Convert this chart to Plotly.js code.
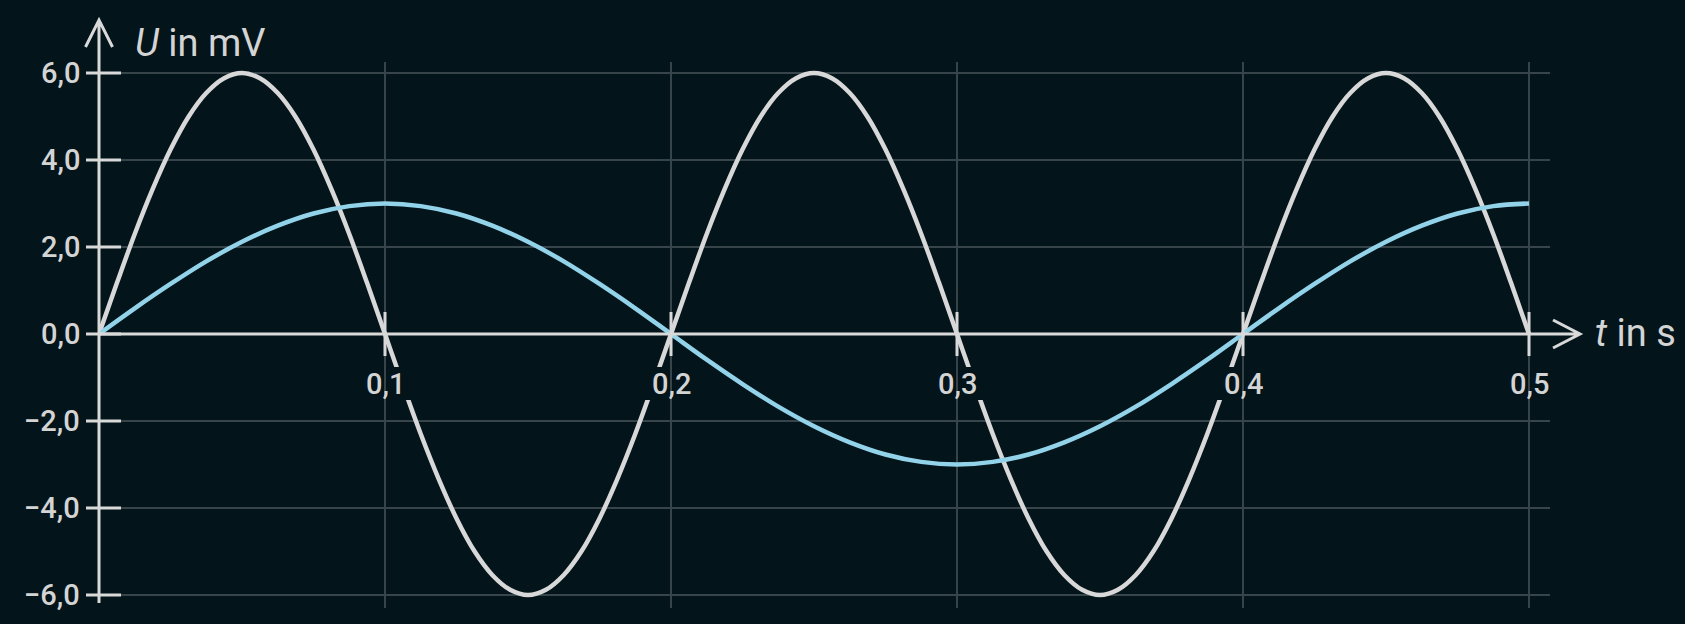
<!DOCTYPE html>
<html>
<head>
<meta charset="utf-8">
<script src="https://cdn.plot.ly/plotly-3.0.1.min.js"></script>
<style>
  html, body { margin: 0; padding: 0; background: #03141b; }
  #chart { width: 1685px; height: 624px; }
</style>
</head>
<body>
<div id="chart"></div>
<script>
// ---- data ----
const tWhite = [0, 0.00625, 0.0125, 0.01875, 0.025, 0.03125, 0.0375, 0.04375,
  0.05, 0.05625, 0.0625, 0.06875, 0.075, 0.08125, 0.0875, 0.09375,
  0.1, 0.10625, 0.1125, 0.11875, 0.125, 0.13125, 0.1375, 0.14375,
  0.15, 0.15625, 0.1625, 0.16875, 0.175, 0.18125, 0.1875, 0.19375,
  0.2, 0.20625, 0.2125, 0.21875, 0.225, 0.23125, 0.2375, 0.24375,
  0.25, 0.25625, 0.2625, 0.26875, 0.275, 0.28125, 0.2875, 0.29375,
  0.3, 0.30625, 0.3125, 0.31875, 0.325, 0.33125, 0.3375, 0.34375,
  0.35, 0.35625, 0.3625, 0.36875, 0.375, 0.38125, 0.3875, 0.39375,
  0.4, 0.40625, 0.4125, 0.41875, 0.425, 0.43125, 0.4375, 0.44375,
  0.45, 0.45625, 0.4625, 0.46875, 0.475, 0.48125, 0.4875, 0.49375,
  0.5];
const uWhite = [0, 1.17, 2.3, 3.33, 4.24, 4.99, 5.54, 5.88,
  6, 5.88, 5.54, 4.99, 4.24, 3.33, 2.3, 1.17,
  0, -1.17, -2.3, -3.33, -4.24, -4.99, -5.54, -5.88,
  -6, -5.88, -5.54, -4.99, -4.24, -3.33, -2.3, -1.17,
  0, 1.17, 2.3, 3.33, 4.24, 4.99, 5.54, 5.88,
  6, 5.88, 5.54, 4.99, 4.24, 3.33, 2.3, 1.17,
  0, -1.17, -2.3, -3.33, -4.24, -4.99, -5.54, -5.88,
  -6, -5.88, -5.54, -4.99, -4.24, -3.33, -2.3, -1.17,
  0, 1.17, 2.3, 3.33, 4.24, 4.99, 5.54, 5.88,
  6, 5.88, 5.54, 4.99, 4.24, 3.33, 2.3, 1.17,
  0];
const tBlue = [0, 0.0125, 0.025, 0.0375, 0.05, 0.0625, 0.075, 0.0875,
  0.1, 0.1125, 0.125, 0.1375, 0.15, 0.1625, 0.175, 0.1875,
  0.2, 0.2125, 0.225, 0.2375, 0.25, 0.2625, 0.275, 0.2875,
  0.3, 0.3125, 0.325, 0.3375, 0.35, 0.3625, 0.375, 0.3875,
  0.4, 0.4125, 0.425, 0.4375, 0.45, 0.4625, 0.475, 0.4875,
  0.5];
const uBlue = [0, 0.59, 1.15, 1.67, 2.12, 2.49, 2.77, 2.94,
  3, 2.94, 2.77, 2.49, 2.12, 1.67, 1.15, 0.59,
  0, -0.59, -1.15, -1.67, -2.12, -2.49, -2.77, -2.94,
  -3, -2.94, -2.77, -2.49, -2.12, -1.67, -1.15, -0.59,
  0, 0.59, 1.15, 1.67, 2.12, 2.49, 2.77, 2.94,
  3];

const xTicks = [0.1, 0.2, 0.3, 0.4, 0.5];
const xTickLabels = ['0,1', '0,2', '0,3', '0,4', '0,5'];
const yTicks = [-6, -4, -2, 0, 2, 4, 6];
const yTickLabels = ['\u22126,0', '\u22124,0', '\u22122,0', '0,0', '2,0', '4,0', '6,0'];

const yAxisTitle = '<i>U</i> in mV';
const xAxisTitle = '<i>t</i> in s';

// ---- styling ----
const BG = '#03141b';
const GRID = '#37444a';
const AXIS = '#d9d9d9';
const TEXT = '#d4d4d4';
const WHITE = '#d8d8d8';
const BLUE = '#93d3ea';
const FONT = 'Roboto, "Noto Sans", sans-serif';

const X_RANGE = [0, 0.50734];
const Y_RANGE = [-6.299, 6.253];
const px = t => (t - X_RANGE[0]) / (X_RANGE[1] - X_RANGE[0]);
const py = u => (u - Y_RANGE[0]) / (Y_RANGE[1] - Y_RANGE[0]);

const traces = [
  { x: tWhite, y: uWhite, type: 'scatter', mode: 'lines',
    line: { color: WHITE, width: 4.5, shape: 'spline', smoothing: 1 }, hoverinfo: 'skip' },
  { x: tBlue, y: uBlue, type: 'scatter', mode: 'lines',
    line: { color: BLUE, width: 4.5, shape: 'spline', smoothing: 1 }, hoverinfo: 'skip' }
];

const shapes = [];
// masks behind x tick labels (leave the grid line visible)
xTicks.forEach(t => {
  [[-27, -1.6], [1.6, 27]].forEach(([a, b]) => {
    shapes.push({ type: 'rect', xref: 'paper', yref: 'paper',
      xsizemode: 'pixel', ysizemode: 'pixel', xanchor: px(t), yanchor: py(0),
      x0: a, x1: b, y0: -33, y1: -66, fillcolor: BG, line: { width: 0 }, layer: 'above' });
  });
});
// x axis line + arrow
shapes.push({ type: 'line', xref: 'paper', yref: 'paper', x0: px(0), x1: px(0.5), y0: py(0), y1: py(0),
  line: { color: AXIS, width: 3 } });
shapes.push({ type: 'path', xref: 'paper', yref: 'paper', xsizemode: 'pixel', ysizemode: 'pixel',
  xanchor: px(0.5), yanchor: py(0), path: 'M0,0H51M24,14L51,0L24,-14',
  line: { color: AXIS, width: 3 } });
// y axis line + arrow
shapes.push({ type: 'line', xref: 'paper', yref: 'paper', x0: px(0), x1: px(0), y0: py(-6), y1: py(6),
  line: { color: AXIS, width: 3 } });
shapes.push({ type: 'path', xref: 'paper', yref: 'paper', xsizemode: 'pixel', ysizemode: 'pixel',
  xanchor: px(0), yanchor: py(6), path: 'M0,0V53M-13.5,26L0,53L13.5,26',
  line: { color: AXIS, width: 3 } });
shapes.push({ type: 'path', xref: 'paper', yref: 'paper', xsizemode: 'pixel', ysizemode: 'pixel',
  xanchor: px(0), yanchor: py(-6), path: 'M0,0V-8',
  line: { color: AXIS, width: 3 } });
// tick marks
yTicks.forEach(v => {
  shapes.push({ type: 'line', xref: 'paper', yref: 'paper', xsizemode: 'pixel',
    xanchor: px(0), x0: -13, x1: 22, y0: py(v), y1: py(v), line: { color: AXIS, width: 3 } });
});
xTicks.forEach(t => {
  shapes.push({ type: 'line', xref: 'paper', yref: 'paper', ysizemode: 'pixel',
    yanchor: py(0), y0: -22, y1: 22, x0: px(t), x1: px(t), line: { color: AXIS, width: 3 } });
});

const annotations = [];
yTicks.forEach((v, i) => {
  annotations.push({ xref: 'paper', yref: 'paper', x: px(0), y: py(v), xshift: -17,
    xanchor: 'right', yanchor: 'middle', showarrow: false, text: yTickLabels[i],
    font: { family: FONT, size: 29, weight: 500, color: TEXT } });
});
xTicks.forEach((t, i) => {
  annotations.push({ xref: 'paper', yref: 'paper', x: px(t), y: py(0), yshift: -50,
    xanchor: 'center', yanchor: 'middle', showarrow: false, text: xTickLabels[i],
    font: { family: FONT, size: 29, weight: 500, color: TEXT } });
});
annotations.push({ xref: 'paper', yref: 'paper', x: px(0), y: py(6), xshift: 34, yshift: 30,
  xanchor: 'left', yanchor: 'middle', showarrow: false, text: yAxisTitle,
  font: { family: FONT, size: 38, color: TEXT } });
annotations.push({ xref: 'paper', yref: 'paper', x: px(0.5), y: py(0), xshift: 64, yshift: 1,
  xanchor: 'left', yanchor: 'middle', showarrow: false, text: xAxisTitle,
  font: { family: FONT, size: 38, color: TEXT } });

const layout = {
  width: 1685, height: 624,
  margin: { l: 99, r: 135, t: 62, b: 16, pad: 0 },
  paper_bgcolor: BG, plot_bgcolor: BG,
  showlegend: false, hovermode: false,
  xaxis: { range: X_RANGE, tickvals: xTicks, showticklabels: false, ticks: '',
           showgrid: true, gridcolor: GRID, gridwidth: 2, zeroline: false, showline: false, fixedrange: true },
  yaxis: { range: Y_RANGE, tickvals: yTicks.filter(v => v !== 0), showticklabels: false, ticks: '',
           showgrid: true, gridcolor: GRID, gridwidth: 2, zeroline: false, showline: false, fixedrange: true },
  shapes: shapes,
  annotations: annotations
};

Plotly.newPlot('chart', traces, layout, { displayModeBar: false, staticPlot: true });
</script>
</body>
</html>
